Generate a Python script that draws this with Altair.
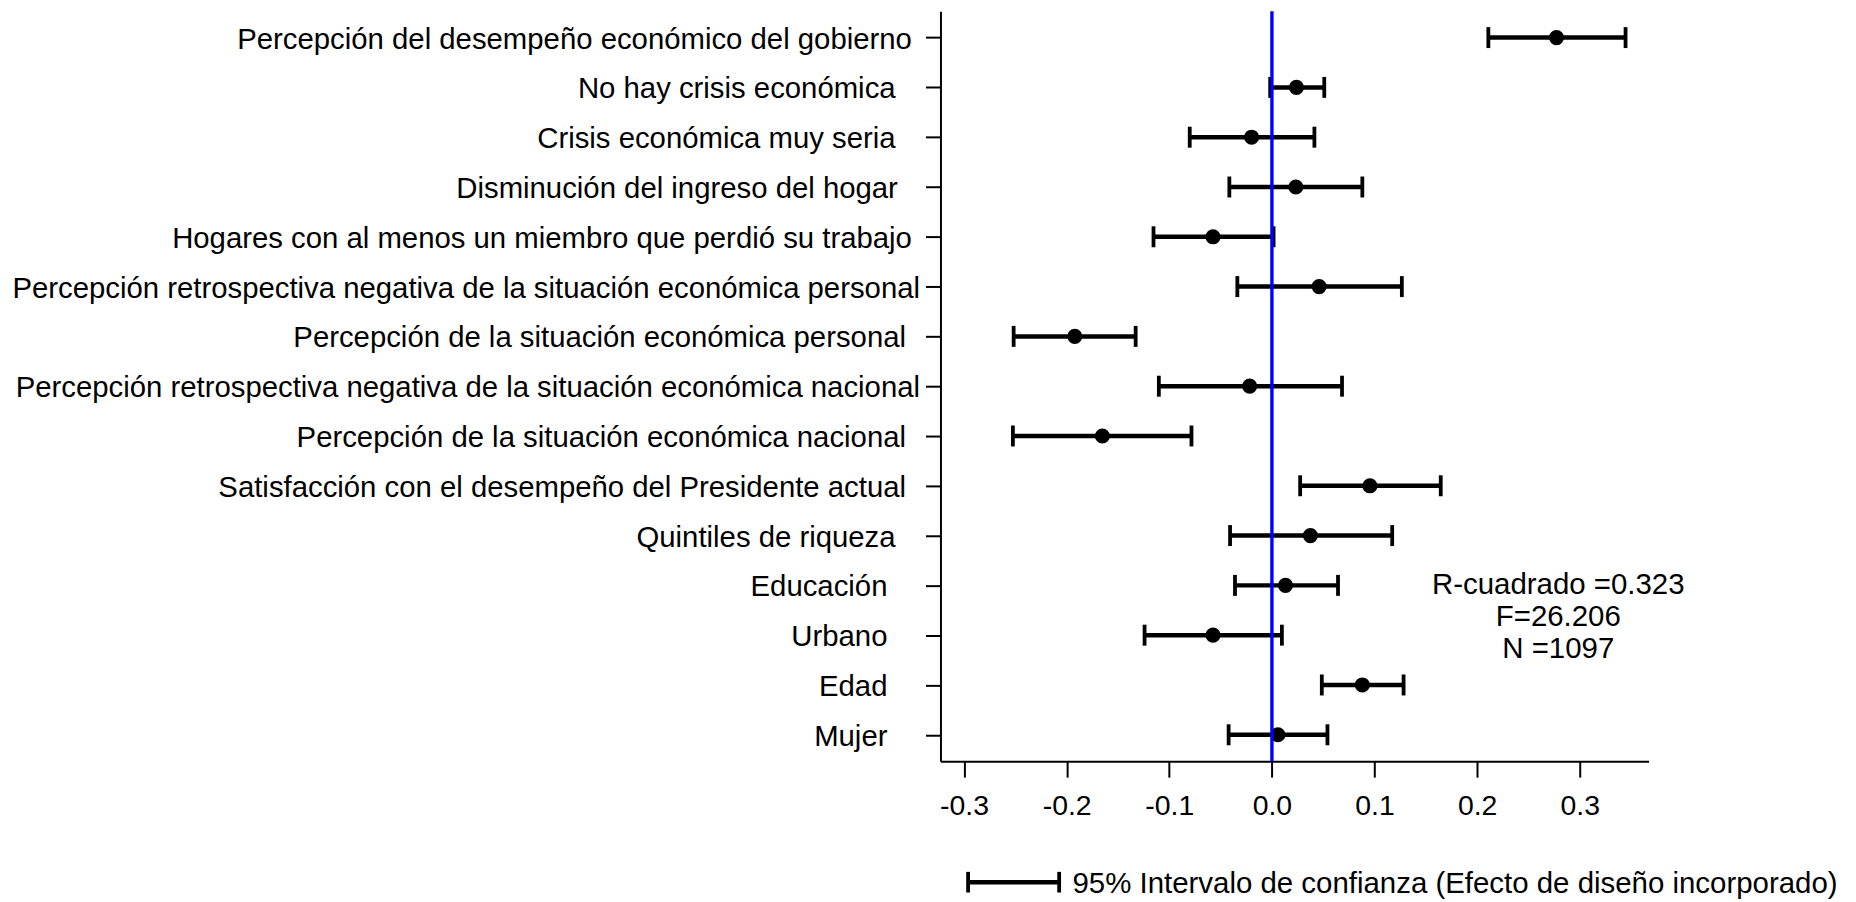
import altair as alt
import pandas as pd

labels = [
    "Percepción del desempeño económico del gobierno",
    "No hay crisis económica",
    "Crisis económica muy seria",
    "Disminución del ingreso del hogar",
    "Hogares con al menos un miembro que perdió su trabajo",
    "Percepción retrospectiva negativa de la situación económica personal",
    "Percepción de la situación económica personal",
    "Percepción retrospectiva negativa de la situación económica nacional",
    "Percepción de la situación económica nacional",
    "Satisfacción con el desempeño del Presidente actual",
    "Quintiles de riqueza",
    "Educación",
    "Urbano",
    "Edad",
    "Mujer",
]
# trailing blanks after each label, counted in spaces
trailing = [1, 3, 3, 2.5, 1, 0, 1.5, 0, 1.5, 1.5, 3, 4, 4, 4, 4]
coef = [0.2773, 0.0239, -0.0198, 0.0233, -0.0574, 0.0460, -0.1921, -0.0217,
        -0.1652, 0.0955, 0.0375, 0.0132, -0.0574, 0.0881, 0.0058]
lower = [0.2109, -0.0017, -0.0801, -0.0415, -0.1154, -0.0337, -0.2517, -0.1102,
         -0.2524, 0.0275, -0.0408, -0.0360, -0.1241, 0.0486, -0.0422]
upper = [0.3446, 0.0510, 0.0414, 0.0881, 0.0016, 0.1266, -0.1328, 0.0683,
         -0.0784, 0.1645, 0.1172, 0.0644, 0.0097, 0.1283, 0.0541]
x_ticks = [-0.3, -0.2, -0.1, 0.0, 0.1, 0.2, 0.3]
stats_lines = ["R-cuadrado =0.323", "F=26.206", "N =1097"]
legend_text = "95% Intervalo de confianza (Efecto de diseño incorporado)"

NB = "\u00a0"
THIN = "\u2009"
ZW = "\u200b"


def pad(label, n):
    whole = int(n)
    s = label + NB * whole
    if n - whole > 0:
        s += THIN
    if n > 0:
        s += ZW
    return s


shown = [pad(l, n) for l, n in zip(labels, trailing)]
df = pd.DataFrame({"label": shown, "coef": coef, "lower": lower, "upper": upper})

FONT = "Liberation Sans"
xscale = alt.Scale(domain=[-0.323, 0.367], nice=False, zero=False)
yscale = alt.Scale(type="point", padding=0.53)

yaxis = alt.Axis(title=None, labelFontSize=29.4, labelFont=FONT, labelColor="black",
                 labelPadding=6, labelOffset=1.5, tickSize=15, tickWidth=2,
                 tickColor="black", domainColor="black", domainWidth=2,
                 labelLimit=2000, grid=False)
xaxis = alt.Axis(title=None, values=x_ticks,
                 labelExpr="replace(format(datum.value, '.1f'), '\u2212', '-')",
                 labelFontSize=28.5, labelFont=FONT, labelColor="black",
                 labelPadding=14, tickSize=16, tickWidth=2, tickColor="black",
                 domainColor="black", domainWidth=2, grid=False, labelFlush=False)

Y = alt.Y("label:N", sort=shown, scale=yscale, axis=yaxis)

base = alt.Chart(df)

bars = base.mark_rule(color="black", strokeWidth=4.5).encode(
    x=alt.X("lower:Q", scale=xscale, axis=xaxis),
    x2="upper:Q",
    y=Y,
)
cap_lo = base.mark_tick(color="black", thickness=3.8, size=21, orient="vertical", opacity=1).encode(
    x=alt.X("lower:Q", scale=xscale, title=None), y=Y)
cap_hi = base.mark_tick(color="black", thickness=3.8, size=21, orient="vertical", opacity=1).encode(
    x=alt.X("upper:Q", scale=xscale, title=None), y=Y)
points = base.mark_point(filled=True, shape="circle", color="black", size=230, opacity=1).encode(
    x=alt.X("coef:Q", scale=xscale, title=None), y=Y)

zero = alt.Chart(pd.DataFrame({"z": [0.0]})).mark_rule(color="#0000FF", strokeWidth=3.4).encode(
    x=alt.X("z:Q", scale=xscale, title=None))

one = pd.DataFrame({"t": ["\n".join(stats_lines)], "lg": [legend_text]})
stats = alt.Chart(one).mark_text(lineBreak="\n", font=FONT, fontSize=29.5, color="black",
                                 align="center", baseline="top", lineHeight=32.3).encode(
    x=alt.value(619.5), y=alt.value(561), text="t:N")

leg_bar = alt.Chart(one).mark_rule(color="black", strokeWidth=4.5).encode(
    x=alt.value(27.7), x2=alt.value(119), y=alt.value(873.3))
leg_cap1 = alt.Chart(one).mark_rule(color="black", strokeWidth=3.8).encode(
    x=alt.value(27.7), y=alt.value(863), y2=alt.value(883.7))
leg_cap2 = alt.Chart(one).mark_rule(color="black", strokeWidth=3.8).encode(
    x=alt.value(119), y=alt.value(863), y2=alt.value(883.7))
leg_text = alt.Chart(one).mark_text(font=FONT, fontSize=29.5, color="black", align="left",
                                    baseline="alphabetic").encode(
    x=alt.value(132.4), y=alt.value(884), text="lg:N")

chart = alt.layer(bars, cap_lo, cap_hi, points, zero, stats, leg_bar, leg_cap1, leg_cap2, leg_text).properties(
    width=710, height=752,
    autosize=alt.AutoSizeParams(type="none"),
    padding={"left": 935, "top": 2, "right": 200, "bottom": 138},
    background="white",
).configure_view(stroke=None)

chart.save("out.html", embed_options={"renderer": "svg", "actions": False})
